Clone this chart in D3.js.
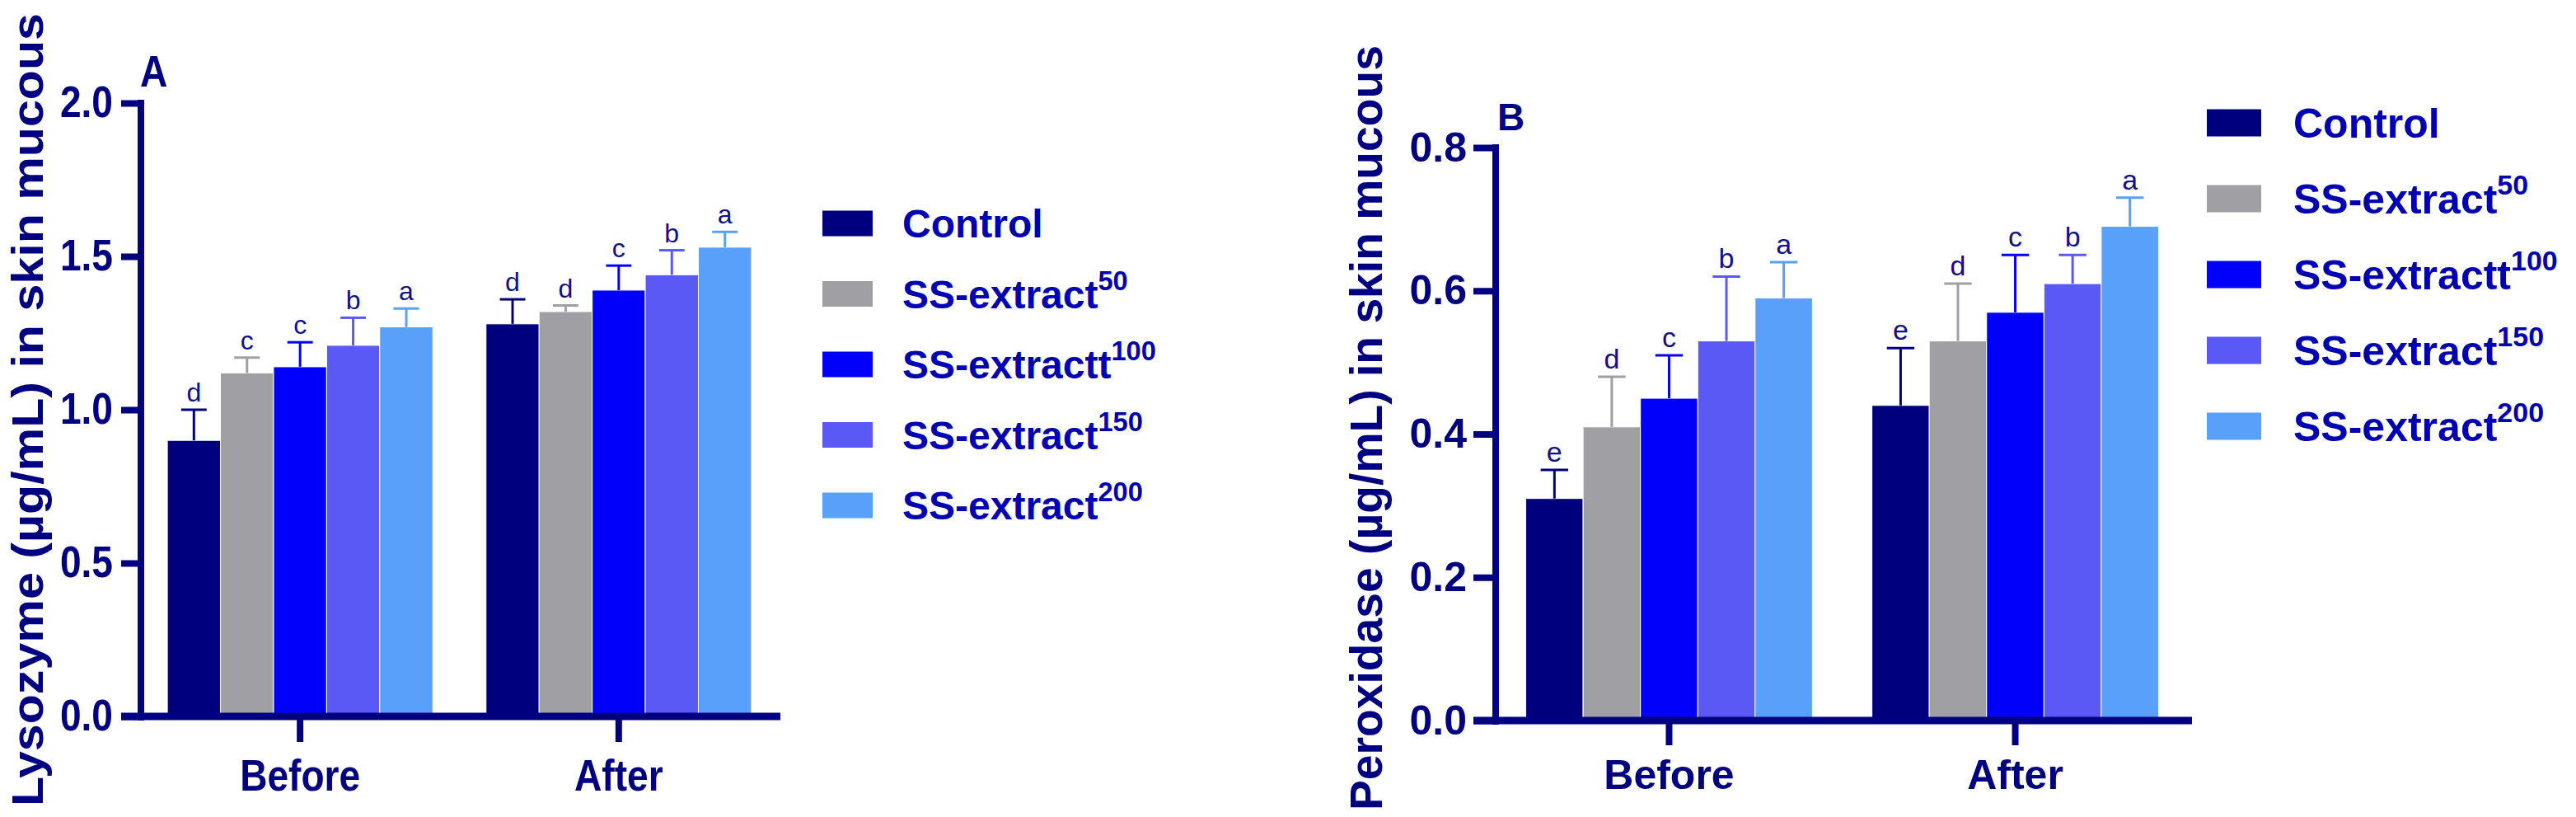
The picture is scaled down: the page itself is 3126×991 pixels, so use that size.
<!DOCTYPE html>
<html>
<head>
<meta charset="utf-8">
<script src="https://cdn.jsdelivr.net/npm/d3@7"></script>
<style>
  body { margin: 0; background: #fff; }
  text { font-family: "Liberation Sans", Arial, sans-serif; }
</style>
</head>
<body>
<svg id="mainsvg" width="3126" height="991"></svg>
<script>
// ---- data ----
const groups = ['Before', 'After'];
const seriesNames = ['Control', 'SS-extract', 'SS-extractt', 'SS-extract', 'SS-extract'];
const seriesSup = ['', '50', '100', '150', '200'];
const seriesColors = ['#00007f', '#a09fa4', '#0000fb', '#5a59f5', '#58a0f9'];

const lysozymeMean = [[0.90, 1.12, 1.14, 1.21, 1.27], [1.28, 1.32, 1.39, 1.44, 1.53]];
const lysozymeErr = [[0.10, 0.05, 0.08, 0.09, 0.06], [0.08, 0.02, 0.08, 0.08, 0.05]];
const lysozymeLetters = [['d', 'c', 'c', 'b', 'a'], ['d', 'd', 'c', 'b', 'a']];
const lysozymeTicks = [0, 0.5, 1.0, 1.5, 2.0];

const peroxidaseMean = [[0.31, 0.41, 0.45, 0.53, 0.59], [0.44, 0.53, 0.57, 0.61, 0.69]];
const peroxidaseErr = [[0.04, 0.07, 0.06, 0.09, 0.05], [0.08, 0.08, 0.08, 0.04, 0.04]];
const peroxidaseLetters = [['e', 'd', 'c', 'b', 'a'], ['e', 'd', 'c', 'b', 'a']];
const peroxidaseTicks = [0, 0.2, 0.4, 0.6, 0.8];

const navy = '#000080';
const svg = d3.select('#mainsvg');

function drawPanel(p) {
    const g = svg.append('g');
    const y = d3.scaleLinear().domain([0, p.ymax]).range([p.y0, p.ytop]);
    const x0 = d3.scaleBand().domain(groups)
        .range([p.xAxis, p.xAxis + p.bandRange])
        .paddingInner(p.padIn).paddingOuter(p.padOut);
    const x1 = d3.scaleBand().domain(d3.range(seriesNames.length))
        .range([0, x0.bandwidth()]);

    const rows = [];
    groups.forEach((gr, gi) => {
        p.mean[gi].forEach((m, si) => {
            rows.push({ group: gr, s: si, v: m, e: p.err[gi][si], l: p.letters[gi][si] });
        });
    });

    // bars
    g.selectAll('rect.bar').data(rows).enter().append('rect')
        .attr('class', 'bar')
        .attr('x', d => x0(d.group) + x1(d.s))
        .attr('width', x1.bandwidth())
        .attr('y', d => y(d.v))
        .attr('height', d => y(0) - y(d.v))
        .attr('fill', d => seriesColors[d.s])
        .attr('stroke', '#fff').attr('stroke-width', 1);

    // error bars (upper only)
    const cx = d => x0(d.group) + x1(d.s) + x1.bandwidth() / 2;
    const capW = x1.bandwidth() * 0.24;
    g.selectAll('line.err').data(rows).enter().append('line')
        .attr('x1', cx).attr('x2', cx)
        .attr('y1', d => y(d.v)).attr('y2', d => y(d.v + d.e))
        .attr('stroke', d => seriesColors[d.s]).attr('stroke-width', 3);
    g.selectAll('line.cap').data(rows).enter().append('line')
        .attr('x1', d => cx(d) - capW).attr('x2', d => cx(d) + capW)
        .attr('y1', d => y(d.v + d.e)).attr('y2', d => y(d.v + d.e))
        .attr('stroke', d => seriesColors[d.s]).attr('stroke-width', 3);

    // significance letters
    g.selectAll('text.letter').data(rows).enter().append('text')
        .attr('x', cx)
        .attr('y', d => y(d.v + d.e) - 10)
        .attr('text-anchor', 'middle')
        .attr('font-size', p.letterSize)
        .attr('fill', '#10108a')
        .text(d => d.l);

    // y axis
    const sx = p.condense;
    const yAxis = g.append('g').attr('transform', `translate(${p.xAxis},0)`)
        .call(d3.axisLeft(y).tickValues(p.ticks).tickFormat(d3.format('.1f'))
            .tickSize(p.ytickLen).tickPadding(p.ytickPad).tickSizeOuter(0));
    yAxis.select('.domain').remove();
    yAxis.selectAll('.tick line').attr('stroke', navy).attr('stroke-width', 8);
    yAxis.selectAll('.tick text')
        .attr('fill', navy).attr('font-weight', 'bold').attr('font-size', p.tickFont)
        .attr('x', -(p.ytickLen + p.ytickPad) / sx)
        .attr('transform', `scale(${sx},1)`);
    g.append('line')
        .attr('x1', p.xAxis).attr('x2', p.xAxis)
        .attr('y1', y(p.ymax) - 4).attr('y2', y(0) + 5)
        .attr('stroke', navy).attr('stroke-width', 8);

    // x axis
    const xAxis = g.append('g').attr('transform', `translate(0,${p.y0})`)
        .call(d3.axisBottom(x0).tickSize(p.xtickLen).tickPadding(p.xtickPad).tickSizeOuter(0));
    xAxis.select('.domain').remove();
    xAxis.selectAll('.tick line').attr('stroke', navy).attr('stroke-width', 8);
    xAxis.selectAll('.tick text')
        .attr('fill', navy).attr('font-weight', 'bold').attr('font-size', p.tickFont)
        .attr('transform', `scale(${sx},1)`);
    g.append('line')
        .attr('x1', p.xLineStart).attr('x2', p.xLineEnd)
        .attr('y1', p.y0).attr('y2', p.y0)
        .attr('stroke', navy).attr('stroke-width', 9);

    // y title
    g.append('text')
        .attr('transform', `translate(${p.titleX},${p.titleY}) rotate(-90)`)
        .attr('text-anchor', 'middle')
        .attr('font-weight', 'bold').attr('font-size', p.titleFont)
        .attr('fill', navy)
        .attr('textLength', p.titleLen).attr('lengthAdjust', 'spacingAndGlyphs')
        .text(p.title);

    // panel letter
    g.append('text')
        .attr('x', p.tagX).attr('y', p.tagY)
        .attr('font-weight', 'bold').attr('font-size', p.tagFont)
        .attr('fill', navy)
        .attr('transform', `translate(${p.tagX},0) scale(${sx},1) translate(${-p.tagX},0)`)
        .text(p.tag);

    // legend
    const leg = g.append('g').selectAll('g').data(seriesNames).enter().append('g')
        .attr('transform', (d, i) => `translate(${p.legX},${p.legY + i * p.legStep})`);
    leg.append('rect')
        .attr('x', 0).attr('y', -p.swH / 2)
        .attr('width', p.swW).attr('height', p.swH)
        .attr('fill', (d, i) => seriesColors[i]);
    const lt = leg.append('text')
        .attr('x', p.legTextX).attr('y', p.legFont * 0.36)
        .attr('font-weight', 'bold').attr('font-size', p.legFont)
        .attr('fill', '#0000b3');
    lt.append('tspan').text(d => d);
    lt.append('tspan')
        .attr('dy', -p.legFont * 0.46)
        .attr('font-size', p.legFont * 0.68)
        .text((d, i) => seriesSup[i]);
}

drawPanel({
    mean: lysozymeMean, err: lysozymeErr, letters: lysozymeLetters, ticks: lysozymeTicks,
    ymax: 2.0, y0: 869, ytop: 125,
    xAxis: 171, bandRange: 773, padIn: 0.167, padOut: 0.083,
    xLineStart: 147, xLineEnd: 947,
    ytickLen: 24, ytickPad: 10, xtickLen: 31, xtickPad: 21,
    tickFont: 53, condense: 0.87, letterSize: 32,
    title: 'Lysozyme (µg/mL) in skin mucous', titleX: 52, titleY: 497, titleFont: 54, titleLen: 962,
    tag: 'A', tagX: 170, tagY: 105, tagFont: 53,
    legX: 998, legY: 271, legStep: 85.5, swW: 61, swH: 31, legTextX: 97, legFont: 48
});

drawPanel({
    mean: peroxidaseMean, err: peroxidaseErr, letters: peroxidaseLetters, ticks: peroxidaseTicks,
    ymax: 0.8, y0: 874, ytop: 179,
    xAxis: 1815, bandRange: 841, padIn: 0.172, padOut: 0.087,
    xLineStart: 1788, xLineEnd: 2660,
    ytickLen: 27, ytickPad: 8, xtickLen: 30, xtickPad: 17,
    tickFont: 50, condense: 1, letterSize: 34,
    title: 'Peroxidase (µg/mL) in skin mucous', titleX: 1677, titleY: 519, titleFont: 55, titleLen: 928,
    tag: 'B', tagX: 1817, tagY: 158, tagFont: 46,
    legX: 2678, legY: 149, legStep: 92, swW: 66, swH: 33, legTextX: 105, legFont: 50
});
</script>
</body>
</html>
